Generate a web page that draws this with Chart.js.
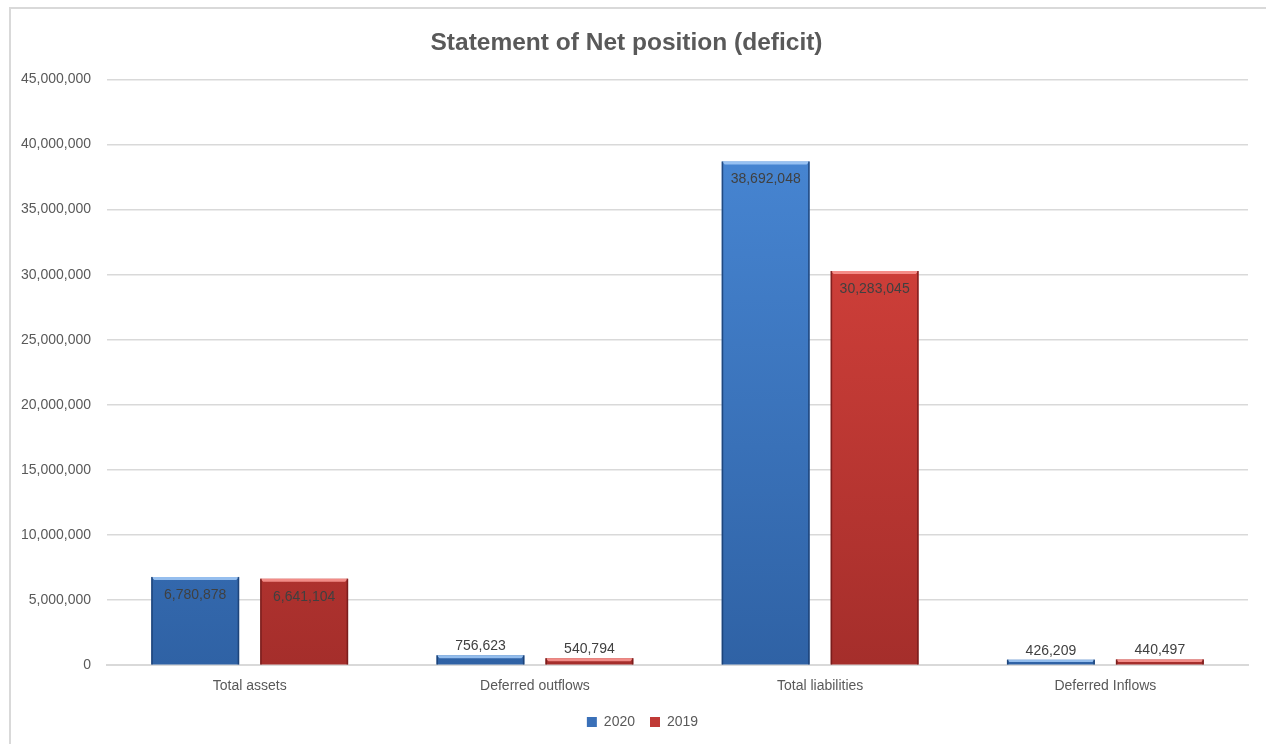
<!DOCTYPE html>
<html>
<head>
<meta charset="utf-8">
<script src="https://cdn.jsdelivr.net/npm/chart.js@4"></script>
<style>
  html, body { margin: 0; padding: 0; background: #fff; overflow: hidden; }
  #frame { position: absolute; left: 9px; top: 7px; width: 1300px; height: 800px; border: 2px solid #d9d9d9; }
  #wrap { position: absolute; left: 0; top: 0; width: 1266px; height: 744px; }
</style>
</head>
<body>
<div id="frame"></div>
<div id="wrap"><canvas id="net-chart"></canvas></div>
<script>
var categories = ['Total assets', 'Deferred outflows', 'Total liabilities', 'Deferred Inflows'];
var values2020 = [6780878, 756623, 38692048, 426209];
var values2019 = [6641104, 540794, 30283045, 440497];
var yTicks = [0, 5000000, 10000000, 15000000, 20000000, 25000000, 30000000, 35000000, 40000000, 45000000];

var FONT = '"Liberation Sans", Arial, sans-serif';
var TEXT = '#595959';

function fmt(v) {
  return new Intl.NumberFormat('en-US').format(v);
}

function barFill(top, bottom) {
  return function(context) {
    var chart = context.chart;
    var area = chart.chartArea;
    if (!area) return top;
    var el = context.element;
    var y0 = el && el.y != null ? el.y : area.top;
    var y1 = el && el.base != null ? el.base : area.bottom;
    if (!isFinite(y0) || !isFinite(y1) || y0 === y1) return top;
    var g = chart.ctx.createLinearGradient(0, y0, 0, y1);
    g.addColorStop(0, top);
    g.addColorStop(1, bottom);
    return g;
  };
}

// light top edge + dark sides, like the bevelled bars of the original
var bevel = {
  id: 'bevel',
  afterDatasetsDraw: function(chart) {
    var ctx = chart.ctx;
    var light = ['rgba(160,200,245,0.9)', 'rgba(250,150,145,0.9)'];
    var dark = ['rgba(25,60,110,0.8)', 'rgba(110,25,25,0.8)'];
    chart.data.datasets.forEach(function(ds, i) {
      chart.getDatasetMeta(i).data.forEach(function(bar) {
        var left = bar.x - bar.width / 2;
        var right = bar.x + bar.width / 2;
        var h = bar.base - bar.y;
        var e = Math.min(3, h / 2);
        ctx.save();
        ctx.fillStyle = light[i];
        ctx.beginPath();
        ctx.moveTo(left, bar.y);
        ctx.lineTo(right, bar.y);
        ctx.lineTo(right - e, bar.y + e);
        ctx.lineTo(left + e, bar.y + e);
        ctx.closePath();
        ctx.fill();
        ctx.fillStyle = dark[i];
        ctx.fillRect(left, bar.y, 1.5, h);
        ctx.fillRect(right - 1.5, bar.y, 1.5, h);
        ctx.restore();
      });
    });
  }
};

var valueLabels = {
  id: 'valueLabels',
  afterDatasetsDraw: function(chart) {
    var ctx = chart.ctx;
    ctx.save();
    ctx.font = '14px ' + FONT;
    ctx.fillStyle = '#404040';
    ctx.textAlign = 'center';
    chart.data.datasets.forEach(function(ds, i) {
      chart.getDatasetMeta(i).data.forEach(function(bar, j) {
        var h = bar.base - bar.y;
        var text = fmt(ds.data[j]);
        if (h > 30) {
          ctx.textBaseline = 'middle';
          ctx.fillText(text, bar.x, bar.y + 18);
        } else {
          ctx.textBaseline = 'bottom';
          ctx.fillText(text, bar.x, bar.y - 2);
        }
      });
    });
    ctx.restore();
  }
};

// the legend sits centred on the page, not on the plot box
var legendShift = {
  id: 'legendShift',
  afterLayout: function(chart) {
    if (chart.legend) {
      chart.legend.left += 16;
      chart.legend.right += 16;
    }
  }
};

var elem = document.getElementById('net-chart');

var netChart = new Chart(elem, {
  type: 'bar',
  data: {
    labels: categories,
    datasets: [{
      label: '2020',
      data: values2020,
      backgroundColor: barFill('#4a8ad8', '#2f62a5'),
      legendColor: '#3a70b8'
    }, {
      label: '2019',
      data: values2019,
      backgroundColor: barFill('#e0463f', '#a52e2b'),
      legendColor: '#c03a36'
    }]
  },
  plugins: [bevel, valueLabels, legendShift],
  options: {
    responsive: true,
    maintainAspectRatio: false,
    animation: false,
    categoryPercentage: 0.764,
    barPercentage: 0.807,
    layout: {
      padding: { left: 5, right: 18, top: 29, bottom: 5 }
    },
    plugins: {
      title: {
        display: true,
        text: 'Statement of Net position (deficit)',
        color: TEXT,
        font: { family: FONT, size: 24.5, weight: 'bold' },
        padding: { top: 0, bottom: 21 }
      },
      legend: {
        position: 'bottom',
        labels: {
          color: TEXT,
          font: { family: FONT, size: 14 },
          boxWidth: 10,
          boxHeight: 10,
          padding: 15,
          generateLabels: function(chart) {
            return chart.data.datasets.map(function(ds, i) {
              return {
                text: ds.label,
                fillStyle: ds.legendColor,
                strokeStyle: ds.legendColor,
                lineWidth: 0,
                fontColor: TEXT,
                datasetIndex: i
              };
            });
          }
        }
      },
      tooltip: {
        callbacks: {
          label: function(context) {
            return context.dataset.label + ': ' + fmt(context.parsed.y);
          }
        }
      }
    },
    scales: {
      x: {
        grid: { display: false },
        border: { color: '#d9d9d9', width: 2 },
        ticks: { color: TEXT, font: { family: FONT, size: 14 }, padding: 5 }
      },
      y: {
        min: 0,
        max: 45000000,
        afterBuildTicks: function(axis) {
          axis.ticks = yTicks.map(function(v) { return { value: v }; });
        },
        grid: { color: '#d9d9d9', lineWidth: 1.5, drawTicks: false },
        border: { display: false },
        ticks: {
          color: TEXT,
          font: { family: FONT, size: 14 },
          padding: 16,
          callback: function(value) { return fmt(value); }
        }
      }
    }
  }
});
</script>
</body>
</html>
